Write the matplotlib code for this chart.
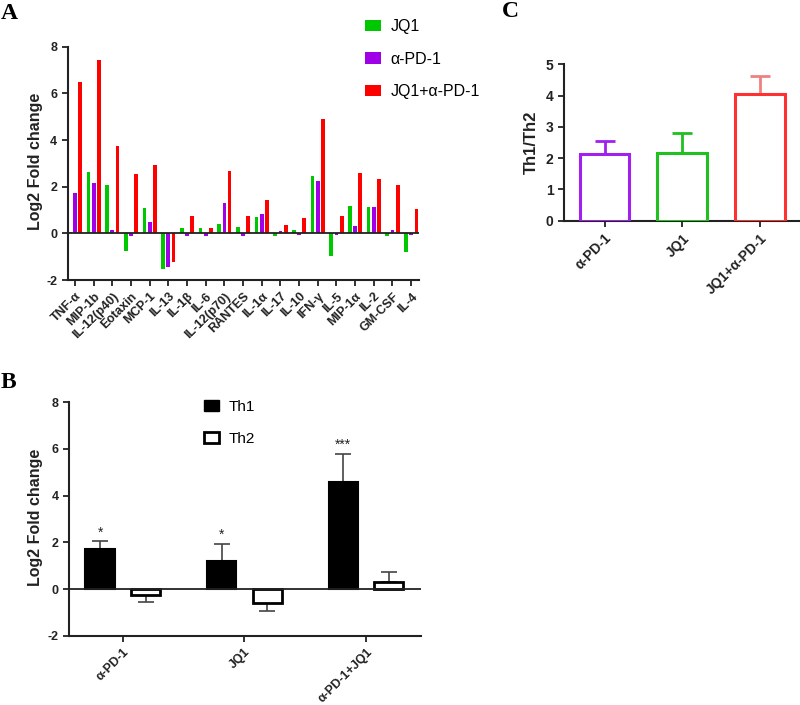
import matplotlib
matplotlib.use("Agg")
import matplotlib.pyplot as plt
from matplotlib.patches import Patch
import numpy as np

plt.rcParams['font.family'] = ['Liberation Sans', 'DejaVu Sans']
plt.rcParams['axes.unicode_minus'] = False

# ---------------- data ----------------
cytokines = ['TNF-α', 'MIP-1b', 'IL-12(p40)', 'Eotaxin', 'MCP-1', 'IL-13', 'IL-1β', 'IL-6',
             'IL-12(p70)', 'RANTES', 'IL-1α', 'IL-17', 'IL-10', 'IFN-γ', 'IL-5', 'MIP-1α',
             'IL-2', 'GM-CSF', 'IL-4']
jq1 = [0.07, 2.64, 2.06, -0.76, 1.07, -1.54, 0.23, 0.23, 0.39, 0.29, 0.70, -0.11, 0.13,
       2.44, -0.97, 1.19, 1.11, -0.11, -0.81]
apd1 = [1.74, 2.17, 0.14, -0.10, 0.49, -1.44, -0.11, -0.11, 1.29, -0.11, 0.83, 0.09, -0.06,
        2.23, -0.08, 0.33, 1.11, 0.13, -0.08]
combo = [6.47, 7.43, 3.76, 2.54, 2.91, -1.24, 0.76, 0.23, 2.66, 0.76, 1.44, 0.34, 0.64,
         4.91, 0.76, 2.60, 2.33, 2.07, 1.03]
seriesA = ['JQ1', 'α-PD-1', 'JQ1+α-PD-1']

groupsB = ['α-PD-1', 'JQ1', 'α-PD-1+JQ1']
th1 = [1.70, 1.21, 4.59]
th1_err = [0.34, 0.72, 1.20]
th2 = [-0.27, -0.59, 0.29]
th2_err = [0.30, 0.34, 0.42]
sigB = ['*', '*', '***']

groupsC = ['α-PD-1', 'JQ1', 'JQ1+α-PD-1']
ratio = [2.13, 2.17, 4.04]
ratio_err = [0.41, 0.63, 0.58]

# ---------------- style ----------------
GREEN = '#00C800'
PURPLE = '#A000E8'
RED = '#FF0000'
AXC = '#222222'

fig = plt.figure(figsize=(8, 7.05), dpi=100)


def style_axes(ax, tick_fs):
    for s in ['top', 'right']:
        ax.spines[s].set_visible(False)
    for s in ['left', 'bottom']:
        ax.spines[s].set_linewidth(1.5)
        ax.spines[s].set_color(AXC)
    ax.tick_params(axis='both', direction='out', length=4, width=1.3, color=AXC,
                   labelsize=tick_fs, labelcolor=AXC)
    for lab in ax.get_yticklabels():
        lab.set_fontweight('bold')


# ---------------- Panel A ----------------
axA = fig.add_axes([0.0846, 0.6028, 0.4394, 0.331])
x = np.arange(len(cytokines))
w = 0.2
off = 0.28
axA.bar(x - off, jq1, w, color=GREEN, label=seriesA[0])
axA.bar(x, apd1, w, color=PURPLE, label=seriesA[1])
axA.bar(x + off, combo, w, color=RED, label=seriesA[2])
axA.axhline(0, color=AXC, lw=1.3)
axA.set_xlim(-0.39, 18.43)
axA.set_ylim(-2, 8)
axA.set_yticks([-2, 0, 2, 4, 6, 8])
axA.set_xticks(x)
axA.set_xticklabels(cytokines, rotation=45, ha='right', rotation_mode='anchor',
                    fontweight='bold')
style_axes(axA, 9)
axA.set_ylabel('Log2 Fold change', fontsize=11.5, fontweight='bold', color=AXC)
axA.yaxis.set_label_coords(-0.069, 0.507)
hA = [Patch(facecolor=c, edgecolor='none') for c in [GREEN, PURPLE, RED]]
axA.legend(hA, seriesA, loc='upper left', bbox_to_anchor=(365 / 800, 1 - 19 / 705),
           bbox_transform=fig.transFigure, frameon=False, fontsize=11.5,
           handlelength=1.0, handleheight=0.7, handletextpad=0.6, labelspacing=1.1,
           borderpad=0, borderaxespad=0)

# ---------------- Panel B ----------------
axB = fig.add_axes([0.0866, 0.0983, 0.4393, 0.3311])
xb = np.arange(len(groupsB))
wb = 0.24
ob = 0.187
axB.bar(xb - ob, th1, wb, color='black', edgecolor='black', lw=1.5, label='Th1', zorder=3)
axB.bar(xb + ob, th2, wb, color='white', edgecolor='black', lw=2.0, label='Th2', zorder=3)
th1_lo = [0] * 3
th2_lo = [e if v < 0 else 0 for v, e in zip(th2, th2_err)]
th2_hi = [e if v >= 0 else 0 for v, e in zip(th2, th2_err)]
axB.errorbar(xb - ob, th1, yerr=[th1_lo, th1_err], fmt='none', ecolor='#444444',
             elinewidth=1.2, capsize=6, capthick=1.2, zorder=2)
axB.errorbar(xb + ob, th2, yerr=[th2_lo, th2_hi], fmt='none', ecolor='#444444',
             elinewidth=1.2, capsize=6, capthick=1.2, zorder=2)
for xi, v, e, s in zip(xb - ob, th1, th1_err, sigB):
    axB.text(xi, v + e + 0.08, s, ha='center', va='bottom', fontsize=10, color=AXC)
axB.axhline(0, color=AXC, lw=1.3, zorder=4)
axB.set_xlim(-0.44, 2.45)
axB.set_ylim(-2, 8)
axB.set_yticks([-2, 0, 2, 4, 6, 8])
axB.set_xticks(xb)
axB.set_xticklabels(groupsB, rotation=45, ha='right', rotation_mode='anchor',
                    fontweight='bold')
style_axes(axB, 9)
axB.set_ylabel('Log2 Fold change', fontsize=11.5, fontweight='bold', color=AXC)
axB.yaxis.set_label_coords(-0.074, 0.506)
hB = [Patch(facecolor='black', edgecolor='black'),
      Patch(facecolor='white', edgecolor='black', lw=2)]
axB.legend(hB, ['Th1', 'Th2'], loc='upper left', bbox_to_anchor=(204 / 800, 1 - 400 / 705),
           bbox_transform=fig.transFigure, frameon=False, fontsize=11,
           handlelength=1.0, handleheight=0.75, handletextpad=0.6, labelspacing=1.15,
           borderpad=0, borderaxespad=0)

# ---------------- Panel C ----------------
axC = fig.add_axes([0.705, 0.687, 0.295, 0.2218])
xc = np.arange(len(groupsC))
edge_c = ['#A020F0', '#20C020', '#FF3030']
err_c = ['#A020F0', '#20C020', '#F08080']
axC.bar(xc, ratio, 0.64, color='white', edgecolor=edge_c, lw=2.2, zorder=3)
for xi, v, e, c in zip(xc, ratio, ratio_err, err_c):
    axC.errorbar(xi, v, yerr=[[0], [e]], fmt='none', ecolor=c, elinewidth=2,
                 capsize=7, capthick=2, zorder=2)
axC.set_xlim(-0.52, 2.51)
axC.set_ylim(0, 5)
axC.set_yticks([0, 1, 2, 3, 4, 5])
axC.set_xticks(xc)
axC.set_xticklabels(groupsC, rotation=45, ha='right', rotation_mode='anchor',
                    fontweight='bold')
style_axes(axC, 10)
axC.set_ylabel('Th1/Th2', fontsize=12, fontweight='bold', color=AXC)
axC.yaxis.set_label_coords(-0.106, 0.5)

# ---------------- panel letters ----------------
for lt, (px, py) in {'A': (1, 3), 'B': (1, 372), 'C': (502, 1)}.items():
    fig.text(px / 800, 1 - py / 705, lt, ha='left', va='top', fontsize=17,
             fontweight='bold', family='Liberation Serif', color='black')

fig.savefig('out.png', dpi=100)
